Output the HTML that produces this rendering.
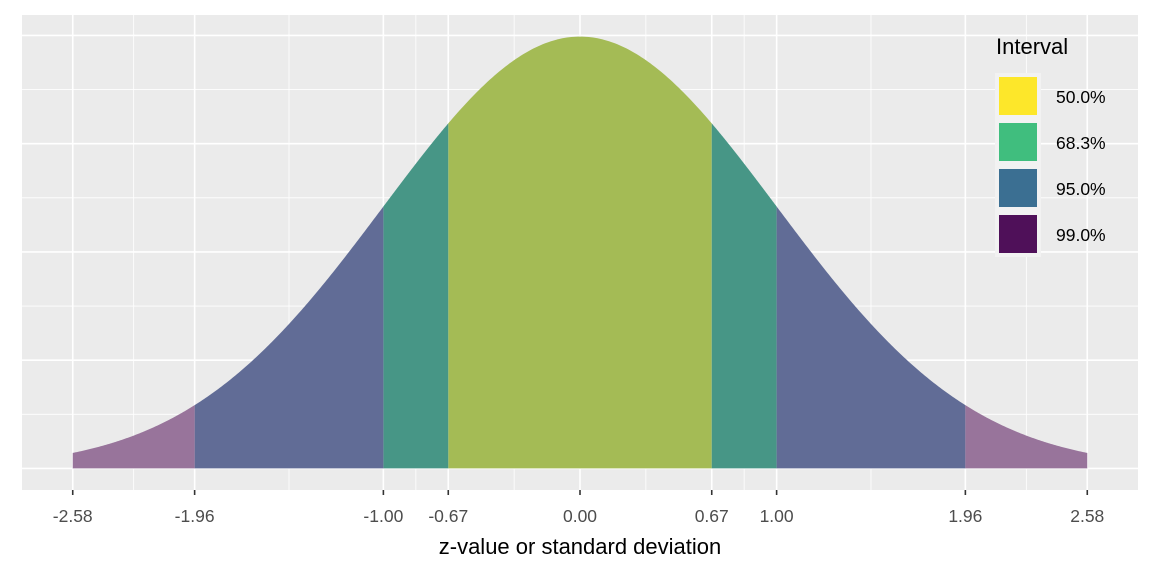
<!DOCTYPE html>
<html><head><meta charset="utf-8"><style>
body{margin:0;background:#fff}
svg{display:block;font-family:"Liberation Sans",sans-serif}
</style></head><body>
<svg id="c" width="1152" height="576"></svg>
<script>
const tickValues=[-2.58,-1.96,-1.00,-0.67,0.00,0.67,1.00,1.96,2.58];
const tickLabels=["-2.58","-1.96","-1.00","-0.67","0.00","0.67","1.00","1.96","2.58"];
const intervalLabels=["50.0%","68.3%","95.0%","99.0%"];
const intervalZ=[0.67,1.00,1.96,2.58];
const regionFill=["#A4BB55","#479686","#616C96","#98749B"];
const legendFill=["#FDE72A","#40BE7E","#3B6F92","#4F1059"];
const yMajor=[0,0.1,0.2,0.3,0.4];
const yMinor=[0.05,0.15,0.25,0.35];

const NS="http://www.w3.org/2000/svg",svg=document.getElementById('c');
const L=22,R=1138,T=15,B=490;
const xmin=-2.58-0.258,xmax=2.58+0.258;
const ymax0=1/Math.sqrt(2*Math.PI),ymin=-ymax0*0.05,ymax=ymax0*1.05;
const X=v=>L+(v-xmin)/(xmax-xmin)*(R-L);
const Y=v=>B-(v-ymin)/(ymax-ymin)*(B-T);
const pdf=z=>Math.exp(-z*z/2)/Math.sqrt(2*Math.PI);
function el(t,a,p){const e=document.createElementNS(NS,t);for(const k in a)e.setAttribute(k,a[k]);(p||svg).appendChild(e);return e;}

const bg=el('rect',{x:L,y:T,width:R-L,height:B-T,fill:'#EBEBEB'});


// minor x grid = midpoints of ticks
for(let i=0;i<tickValues.length-1;i++){
  const x=X((tickValues[i]+tickValues[i+1])/2);
  const g=el('line',{x1:x,x2:x,y1:T,y2:B,stroke:'#fff','stroke-width':0.8});
  
  
}
yMinor.forEach(v=>{const g=el('line',{x1:L,x2:R,y1:Y(v),y2:Y(v),stroke:'#fff','stroke-width':0.8});
  
  });
yMajor.forEach(v=>{const g=el('line',{x1:L,x2:R,y1:Y(v),y2:Y(v),stroke:'#fff','stroke-width':1.6});
  
  });
tickValues.forEach(v=>{const g=el('line',{x1:X(v),x2:X(v),y1:T,y2:B,stroke:'#fff','stroke-width':1.6});
  
  });

function region(a,b,fill,name){
  let d=`M${X(a)},${Y(0)}`;
  const n=120;
  for(let i=0;i<=n;i++){const z=a+(b-a)*i/n;d+=`L${X(z).toFixed(2)},${Y(pdf(z)).toFixed(2)}`;}
  d+=`L${X(b)},${Y(0)}Z`;
  const p=el('path',{d,fill});
  
  
}
// draw regions: central, then symmetric bands
region(-intervalZ[0],intervalZ[0],regionFill[0],'area-50');
for(let i=1;i<intervalZ.length;i++){
  region(-intervalZ[i],-intervalZ[i-1],regionFill[i],'area-'+intervalLabels[i].replace('%','').replace('.','-')+'-left');
  region(intervalZ[i-1],intervalZ[i],regionFill[i],'area-'+intervalLabels[i].replace('%','').replace('.','-')+'-right');
}
// ticks
tickValues.forEach((v,i)=>{
  const t=el('line',{x1:X(v),x2:X(v),y1:B,y2:B+5,stroke:'#333','stroke-width':1.6});
  
  
  const tx=el('text',{x:X(v),y:522,'text-anchor':'middle','font-size':17.5,fill:'#4D4D4D'});
  tx.textContent=tickLabels[i];
  
  
});
const xt=el('text',{x:580,y:554,'text-anchor':'middle','font-size':22,fill:'#000'});
xt.textContent='z-value or standard deviation';


// legend
const lt=el('text',{x:996,y:54,'font-size':22,fill:'#000'});
lt.textContent='Interval';


const lb=el('rect',{x:995,y:73,width:46,height:184,fill:'#F2F2F2'});


intervalLabels.forEach((s,i)=>{
  const y=77+i*46;
  const r=el('rect',{x:999,y,width:38,height:38,fill:legendFill[i]});
  
  
  const t=el('text',{x:1056,y:y+26,'font-size':17.5,fill:'#000'});
  t.textContent=s;
  
  
});
</script>
</body></html>
